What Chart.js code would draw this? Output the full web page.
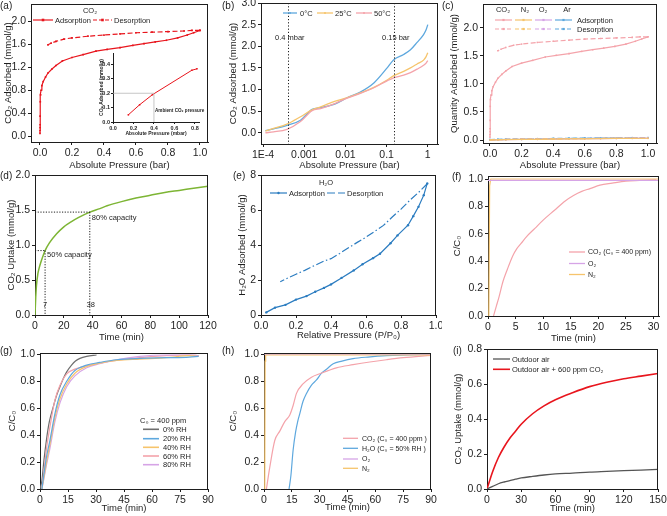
<!DOCTYPE html>
<html><head><meta charset="utf-8">
<script src="https://cdn.jsdelivr.net/npm/chart.js@4.4.0/dist/chart.umd.min.js"></script>
<style>
html,body{margin:0;padding:0;background:#fff;}
body{width:667px;height:516px;overflow:hidden;position:relative;}
canvas{position:absolute;}
</style></head><body>
<script>
// ================= DATA =================
// (a) CO2 isotherm (bar, mmol/g)
const aAdsP = [0.0002,0.0004,0.0006,0.0008,0.001,0.002,0.004,0.007,0.012,0.02,0.035,0.05,0.075,0.1,0.14,0.2,0.27,0.35,0.42,0.5,0.58,0.65,0.72,0.79,0.86,0.92,0.96,1.0];
const aAdsQ = [0.05,0.1,0.15,0.2,0.35,0.6,0.72,0.8,0.88,0.95,1.03,1.1,1.17,1.23,1.31,1.37,1.42,1.48,1.51,1.54,1.58,1.61,1.64,1.67,1.71,1.76,1.8,1.84];
const aDesP = [1.0,0.95,0.9,0.8,0.7,0.6,0.5,0.4,0.3,0.2,0.15,0.1,0.07,0.05];
const aDesQ = [1.84,1.84,1.83,1.82,1.81,1.8,1.78,1.76,1.74,1.71,1.69,1.65,1.62,1.59];
// (a) inset, low pressure (mbar, mmol/g)
const insP = [0.15,0.26,0.385,0.77,0.82];
const insQ = [0.05,0.12,0.19,0.36,0.37];
// (b) CO2 isotherms at three temperatures (bar, mmol/g)
const bP = [1.14e-4,1.8e-4,3.8e-4,8.1e-4,1.55e-3,2.5e-3,5.7e-3,1.1e-2,2.3e-2,4.9e-2,1.03e-1,1.49e-1,2.6e-1,3.8e-1,5.5e-1,7.9e-1,9.1e-1,1.0];
const b0C  = [0.05,0.09,0.17,0.29,0.54,0.58,0.67,0.81,0.94,1.15,1.5,1.69,1.81,1.92,2.09,2.27,2.38,2.5];
const b25C = [0.04,0.1,0.2,0.37,0.53,0.6,0.73,0.81,0.92,1.05,1.22,1.32,1.42,1.5,1.59,1.68,1.76,1.85];
const b50C = [0.0,0.02,0.08,0.26,0.51,0.56,0.68,0.8,0.91,1.04,1.2,1.27,1.33,1.39,1.47,1.56,1.61,1.67];
// (c) other gases (bar, mmol/g)
const cGasP = [0,0.05,0.1,0.2,0.3,0.4,0.5,0.6,0.7,0.8,0.9,1.0];
const cN2Ads = [0,0.003,0.006,0.01,0.013,0.016,0.019,0.022,0.025,0.028,0.03,0.032];
const cN2Des = [0.004,0.007,0.01,0.014,0.017,0.02,0.023,0.026,0.028,0.03,0.031,0.032];
const cO2Ads = [0,0.004,0.007,0.011,0.014,0.017,0.02,0.023,0.026,0.029,0.031,0.034];
const cO2Des = [0.005,0.008,0.011,0.015,0.018,0.021,0.024,0.027,0.029,0.031,0.033,0.034];
const cArAds = [0,0.006,0.01,0.015,0.02,0.024,0.028,0.031,0.034,0.036,0.038,0.04];
const cArDes = [0.008,0.012,0.016,0.02,0.024,0.028,0.031,0.034,0.036,0.038,0.04,0.04];
// (d) CO2 uptake kinetics (min, mmol/g)
const dT = [0,0.5,1,2,3,4,5,7,10,15,20,25,30,38,45,50,60,70,80,90,100,110,120];
const dQ = [0,0.25,0.42,0.59,0.68,0.75,0.81,0.92,1.03,1.16,1.26,1.33,1.39,1.47,1.52,1.56,1.62,1.67,1.71,1.75,1.78,1.81,1.84];
const dMarkT = [7,38];
const dMarkQ = [0.92,1.47];
// (e) H2O isotherm (P/P0, mmol/g)
const eAdsP = [0.03,0.08,0.14,0.2,0.26,0.31,0.36,0.4,0.46,0.53,0.58,0.64,0.68,0.74,0.78,0.84,0.87,0.9,0.93,0.95];
const eAdsQ = [0.15,0.42,0.58,0.88,1.08,1.33,1.55,1.75,2.12,2.55,2.9,3.25,3.5,4.1,4.55,5.13,5.65,6.18,6.85,7.52];
const eDesP = [0.95,0.9,0.85,0.8,0.75,0.7,0.65,0.6,0.55,0.5,0.45,0.4,0.36,0.3,0.25,0.2,0.15,0.11];
const eDesQ = [7.5,7.0,6.55,6.05,5.6,5.12,4.78,4.45,4.15,3.84,3.52,3.22,3.08,2.8,2.55,2.33,2.1,1.9];
// (f) breakthrough (min, C/C0)
const fCO2T = [1,1.5,2,2.7,3.5,4.5,5.2,6,7,8.5,10,12,14,15.5,17,18.5,20.3,22.5,25,27.5,30.5];
const fCO2  = [0,0.07,0.14,0.25,0.34,0.44,0.49,0.53,0.58,0.64,0.7,0.77,0.84,0.88,0.91,0.93,0.955,0.97,0.985,0.99,0.995];
const fO2T = [0,31];
const fO2  = [0.99,0.99];
const fN2T = [0.15,0.3,0.5,31];
const fN2  = [0,0.95,1.0,1.0];
// (g) breakthrough vs humidity (min, C/C0)
const gT0 = [0,1,2,3.6,5,7.1,9,10.7,12.5,14.3,16.9,19,21.4,25,30.3];
const gRH0 = [0,0.06,0.2,0.38,0.5,0.61,0.7,0.76,0.82,0.87,0.92,0.95,0.97,0.985,0.995];
const gT = [1,2,3.5,5.3,8,10.7,14.3,18.7,25,32,41,53.5,67.7,80,85];
const gRH20 = [0,0.1,0.24,0.36,0.56,0.7,0.8,0.88,0.92,0.94,0.96,0.97,0.975,0.98,0.985];
const gRH40 = [0,0.08,0.2,0.33,0.53,0.67,0.78,0.86,0.91,0.935,0.955,0.965,0.975,0.99,0.985];
const gRH60 = [0,0.12,0.3,0.46,0.66,0.77,0.855,0.89,0.915,0.935,0.955,0.975,0.99,0.995,0.99];
const gRH80 = [0,0.07,0.18,0.3,0.5,0.64,0.76,0.84,0.9,0.93,0.96,0.985,0.995,0.995,0.99];
// (h) breakthrough with humid air (min, C/C0)
const hCO2T = [1.3,3.1,5.8,8.5,11.2,13.9,15.7,17.5,21,25.6,30.1,39,48,57,66,75,90];
const hCO2  = [0,0.16,0.36,0.43,0.5,0.55,0.62,0.71,0.78,0.83,0.856,0.9,0.923,0.943,0.96,0.975,0.993];
const hH2OT = [13.5,14.5,15.7,17,18.3,19.3,21,22.9,25.5,28.3,31,33.7,37.3,42,48,56,66,78,90];
const hH2O  = [0,0.1,0.29,0.42,0.51,0.56,0.65,0.71,0.77,0.81,0.86,0.89,0.93,0.95,0.968,0.98,0.99,0.995,1.0];
const hO2T = [0,90];
const hO2  = [1.004,1.004];
const hN2T = [0.4,0.6,0.9,90];
const hN2  = [0,0.95,0.996,0.996];
// (i) outdoor air uptake (min, mmol/g)
const iT = [0,5,10,15,20,25,30,40,50,60,75,90,105,120,135,150];
const iOutdoor = [0,0.015,0.03,0.04,0.048,0.056,0.063,0.072,0.08,0.086,0.091,0.097,0.101,0.105,0.108,0.112];
const iEnriched = [0,0.1,0.18,0.24,0.29,0.33,0.37,0.43,0.475,0.51,0.55,0.585,0.61,0.63,0.645,0.66];
// tick values
const aXTicks = [0,0.2,0.4,0.6,0.8,1.0], aYTicks = [0,0.4,0.8,1.2,1.6,2.0];
const insXTicks = [0,0.2,0.4,0.6,0.8], insYTicks = [0,0.1,0.2,0.3,0.4];
const bXTicks = [1e-4,1e-3,1e-2,1e-1,1], bXLabels = ['1E-4','0.001','0.01','0.1','1'];
const bYTicks = [0,0.5,1.0,1.5,2.0,2.5,3.0];
const cXTicks = [0,0.2,0.4,0.6,0.8,1.0], cYTicks = [0,0.5,1.0,1.5,2.0];
const dXTicks = [0,20,40,60,80,100,120], dYTicks = [0,0.5,1.0,1.5,2.0];
const eXTicks = [0,0.2,0.4,0.6,0.8,1.0], eYTicks = [0,2,4,6,8];
const fXTicks = [0,5,10,15,20,25,30], fYTicks = [0,0.2,0.4,0.6,0.8,1.0];
const ghXTicks = [0,15,30,45,60,75,90], ghYTicks = [0,0.2,0.4,0.6,0.8,1.0];
const iXTicks = [0,30,60,90,120,150], iYTicks = [0,0.2,0.4,0.6,0.8];

// ================= STYLE / HELPERS =================
const FONT = "'Liberation Sans', Arial, Helvetica, sans-serif";
const INK = '#1e1e1e';
const RED = '#e8151d', PINK = '#f4a3aa', ORANGE = '#f6c46c', VIOLET = '#d6a4e6', BLUE = '#5ea8de';
const GRAY = '#6e6e6e', GREEN = '#7db534', EBLUE = '#2b7cc0', IGRAY = '#555555';
const pts = (xs, ys) => xs.map((x, i) => ({x, y: ys[i]}));

function txt(ctx, s, x, y, size, align, weight, color) {
  ctx.save();
  ctx.font = (weight || 'normal') + ' ' + size + 'px ' + FONT;
  ctx.fillStyle = color || INK; ctx.textAlign = align || 'left'; ctx.textBaseline = 'middle';
  ctx.fillText(s, x, y); ctx.restore();
}
function seg(ctx, x1, y1, x2, y2, color, lw, dash) {
  ctx.save(); ctx.strokeStyle = color; ctx.lineWidth = lw || 1; ctx.setLineDash(dash || []);
  ctx.beginPath(); ctx.moveTo(x1, y1); ctx.lineTo(x2, y2); ctx.stroke(); ctx.restore();
}
function mark(ctx, x, y, color, r, round) {
  ctx.save(); ctx.fillStyle = color; ctx.beginPath();
  if (round) ctx.arc(x, y, r, 0, Math.PI * 2); else ctx.rect(x - r, y - r, 2 * r, 2 * r);
  ctx.fill(); ctx.restore();
}

function panel(cfg) {
  const [cx, cy, cw, ch] = cfg.canvas;
  const [pl, pt, pr, pb] = cfg.plot;
  const cv = document.createElement('canvas');
  cv.width = cw; cv.height = ch;
  cv.style.left = cx + 'px'; cv.style.top = cy + 'px'; cv.style.width = cw + 'px'; cv.style.height = ch + 'px';
  document.body.appendChild(cv);
  const ts = cfg.tickSize || 10.5, tt = cfg.titleSize || 9.5, wt = cfg.bold ? 'bold' : 'normal';
  const lh = tt * 1.2;
  function sc(a, isX) {
    return {
      type: a.type || 'linear', position: isX ? 'bottom' : 'left', min: a.min, max: a.max,
      afterBuildTicks: s => { s.ticks = a.ticks.map(v => ({value: v})); },
      afterFit: s => {
        if (isX) s.height = cy + ch - pb; else s.width = pl - cx;
        s.paddingLeft = 0; s.paddingRight = 0; s.paddingTop = 0; s.paddingBottom = 0;
      },
      ticks: {
        autoSkip: false, maxRotation: 0, minRotation: 0, padding: cfg.tickPad != null ? cfg.tickPad : 2, color: INK,
        font: {family: FONT, size: ts, weight: wt},
        callback: (v, i) => a.labels ? a.labels[i] : Number(v).toFixed(a.dec)
      },
      grid: {drawOnChartArea: false, drawTicks: true, tickLength: cfg.tickLen || 3, color: INK, lineWidth: 1},
      border: {display: true, color: INK, width: 1},
      title: {
        display: true, text: a.title, color: INK, font: {family: FONT, size: tt, weight: wt},
        padding: isX ? {top: 0, bottom: Math.max(0, cy + ch - cfg.xTitleY - lh / 2)}
                     : {top: Math.max(0, cfg.yTitleX - cx - lh / 2), bottom: 0}
      }
    };
  }
  return new Chart(cv, {
    type: 'line',
    data: {datasets: cfg.datasets},
    options: {
      responsive: false, animation: false, devicePixelRatio: 1,
      layout: {padding: {left: 0, top: pt - cy, right: cx + cw - pr, bottom: 0}},
      scales: {x: sc(cfg.x, true), y: sc(cfg.y, false)},
      plugins: {legend: {display: false}, tooltip: {enabled: false}},
      elements: {line: {borderWidth: 1.2, fill: false}, point: {radius: 0}}
    },
    plugins: [{
      id: 'deco',
      afterDraw(chart) {
        const ctx = chart.ctx, a = chart.chartArea;
        ctx.save(); ctx.translate(-cx, -cy);
        const px = v => chart.scales.x.getPixelForValue(v) + cx;
        const py = v => chart.scales.y.getPixelForValue(v) + cy;
        if (!cfg.noBox) {
          ctx.strokeStyle = INK; ctx.lineWidth = 1; ctx.beginPath();
          ctx.moveTo(a.left + cx, a.top + cy + 0.5); ctx.lineTo(a.right + cx, a.top + cy + 0.5);
          ctx.moveTo(a.right + cx - 0.5, a.top + cy); ctx.lineTo(a.right + cx - 0.5, a.bottom + cy + 1);
          ctx.stroke();
        }
        if (cfg.letter) txt(ctx, cfg.letter[0], cfg.letter[1], cfg.letter[2], 10);
        if (cfg.deco) cfg.deco(ctx, px, py);
        ctx.restore();
      }
    }]
  });
}

const line = (xs, ys, color, extra) => Object.assign({data: pts(xs, ys), borderColor: color, backgroundColor: color, borderWidth: 1.2, pointRadius: 0, tension: 0}, extra || {});
const mono = {cubicInterpolationMode: 'monotone'};

// ================= (a) =================
panel({
  canvas: [0, 0, 222, 172], plot: [31, 3, 208, 142], xTitleY: 165, yTitleX: 8, letter: ['(a)', 0, 6],
  x: {min: -0.056, max: 1.05, ticks: aXTicks, dec: 1, title: 'Absolute Pressure (bar)'},
  y: {min: -0.1, max: 2.3, ticks: aYTicks, dec: 1, title: 'CO\u2082 Adsorbed (mmol/g)'},
  datasets: [
    line(aDesP, aDesQ, RED, {borderDash: [5, 2.5], pointRadius: 1.2, pointStyle: 'rect', pointBorderWidth: 0}),
    line(aAdsP, aAdsQ, RED, {pointRadius: 1.2, pointStyle: 'rect', pointBorderWidth: 0})
  ],
  deco(ctx) {
    txt(ctx, 'CO\u2082', 90, 11, 7.5, 'center');
    seg(ctx, 33, 20, 53, 20, RED, 1.2); mark(ctx, 43, 20, RED, 1.3);
    txt(ctx, 'Adsorption', 55, 20.5, 7.5);
    seg(ctx, 93, 20, 112, 20, RED, 1.2, [4, 2]); mark(ctx, 102.5, 20, RED, 1.3);
    txt(ctx, 'Desorption', 114, 20.5, 7.5);
  }
});
// inset
panel({
  canvas: [98, 48, 110, 92], plot: [113, 53, 199, 122], xTitleY: 134, yTitleX: 102, noBox: true,
  tickSize: 5.5, titleSize: 5, bold: true, tickLen: 2, tickPad: 1,
  x: {min: 0, max: 0.84, ticks: insXTicks, dec: 1, title: 'Absolute Pressure (mbar)'},
  y: {min: 0, max: 0.48, ticks: insYTicks, dec: 1, title: 'CO\u2082 Adsorbed (mmol/g)'},
  datasets: [line(insP, insQ, RED, {borderWidth: 1, pointRadius: 1.1, pointStyle: 'rect', pointBorderWidth: 0})],
  deco(ctx, px, py) {
    seg(ctx, px(0), py(0.2), px(0.4), py(0.2), '#b8b8b8', 0.8);
    seg(ctx, px(0.4), py(0), px(0.4), py(0.2), '#b8b8b8', 0.8);
    txt(ctx, 'Ambient CO\u2082 pressure', px(0.41), py(0.078), 4.6, 'left', 'bold');
  }
});

// ================= (b) =================
panel({
  canvas: [218, 0, 224, 172], plot: [261, 3, 438, 144], xTitleY: 165, yTitleX: 233, letter: ['(b)', 222, 6],
  x: {type: 'logarithmic', min: 8.9e-5, max: 1.77, ticks: bXTicks, labels: bXLabels, title: 'Absolute Pressure (bar)'},
  y: {min: -0.26, max: 3.0, ticks: bYTicks, dec: 1, title: 'CO\u2082 Adsorbed (mmol/g)'},
  datasets: [
    line(bP, b50C, PINK, Object.assign({borderWidth: 1.3}, mono)),
    line(bP, b25C, ORANGE, Object.assign({borderWidth: 1.3}, mono)),
    line(bP, b0C, BLUE, Object.assign({borderWidth: 1.3}, mono))
  ],
  deco(ctx, px, py) {
    const top = py(3.0), bot = py(-0.26);
    seg(ctx, Math.round(px(4e-4)) + 0.5, top, Math.round(px(4e-4)) + 0.5, bot, INK, 1, [1.2, 2]);
    seg(ctx, Math.round(px(0.15)) + 0.5, top, Math.round(px(0.15)) + 0.5, bot, INK, 1, [1.2, 2]);
    txt(ctx, '0.4 mbar', 275, 38, 7.5);
    txt(ctx, '0.15 bar', 382, 38, 7.5);
    seg(ctx, 283, 13, 297, 13, BLUE, 1.3); mark(ctx, 290, 13, BLUE, 1, true);
    txt(ctx, '0\u00B0C', 300, 13.5, 7.5);
    seg(ctx, 317, 13, 333, 13, ORANGE, 1.3); mark(ctx, 325, 13, ORANGE, 1, true);
    txt(ctx, '25\u00B0C', 335, 13.5, 7.5);
    seg(ctx, 356, 13, 372, 13, PINK, 1.3); mark(ctx, 364, 13, PINK, 1, true);
    txt(ctx, '50\u00B0C', 374, 13.5, 7.5);
  }
});

// ================= (c) =================
panel({
  canvas: [440, 0, 227, 172], plot: [483, 3, 657, 143], xTitleY: 165, yTitleX: 454, letter: ['(c)', 442, 6],
  x: {min: -0.044, max: 1.057, ticks: cXTicks, dec: 1, title: 'Absolute Pressure (bar)'},
  y: {min: -0.053, max: 2.425, ticks: cYTicks, dec: 1, title: 'Quantity Adsorbed (mmol/g)'},
  datasets: [
    line(aDesP, aDesQ, PINK, {borderDash: [5, 2.5], pointRadius: 1.1, pointStyle: 'rect', pointBorderWidth: 0}),
    line(aAdsP, aAdsQ, PINK, {pointRadius: 1.1, pointStyle: 'rect', pointBorderWidth: 0}),
    line(cGasP, cN2Ads, ORANGE, {pointRadius: 0.9, pointBorderWidth: 0}),
    line(cGasP, cN2Des, ORANGE, {borderDash: [5, 2.5]}),
    line(cGasP, cO2Ads, VIOLET, {pointRadius: 0.9, pointBorderWidth: 0}),
    line(cGasP, cO2Des, VIOLET, {borderDash: [5, 2.5]}),
    line(cGasP, cArAds, BLUE, {borderDash: [6, 2, 1.5, 2], pointRadius: 1, pointBorderWidth: 0}),
    line(cGasP, cArDes, BLUE, {borderDash: [5, 2.5], pointRadius: 1, pointBorderWidth: 0})
  ],
  deco(ctx) {
    txt(ctx, 'CO\u2082', 503, 9.5, 7.5, 'center');
    txt(ctx, 'N\u2082', 525, 9.5, 7.5, 'center');
    txt(ctx, 'O\u2082', 543, 9.5, 7.5, 'center');
    txt(ctx, 'Ar', 567, 9.5, 7.5, 'center');
    const cols = [[495, PINK], [515, ORANGE], [535, VIOLET], [555, BLUE]];
    cols.forEach(([x, c]) => {
      seg(ctx, x, 20, x + 17, 20, c, 1.2); mark(ctx, x + 8.5, 20, c, 1.1);
      seg(ctx, x, 29, x + 17, 29, c, 1.2, [4, 2]); mark(ctx, x + 8.5, 29, c, 1.1);
    });
    txt(ctx, 'Adsorption', 577, 20.5, 7.5);
    txt(ctx, 'Desorption', 577, 29.5, 7.5);
  }
});

// ================= (d) =================
panel({
  canvas: [0, 167, 222, 177], plot: [35, 175, 208, 315], xTitleY: 337, yTitleX: 11, letter: ['(d)', 0, 176],
  x: {min: 0, max: 120, ticks: dXTicks, dec: 0, title: 'Time (min)'},
  y: {min: 0, max: 2.0, ticks: dYTicks, dec: 1, title: 'CO\u2082 Uptake (mmol/g)'},
  datasets: [line(dT, dQ, GREEN, Object.assign({borderWidth: 1.5}, mono))],
  deco(ctx, px, py) {
    const lab = ['50% capacity', '80% capacity'];
    dMarkT.forEach((t, i) => {
      const x = px(t), y = py(dMarkQ[i]);
      seg(ctx, px(0), y, x, y, INK, 1, [1.2, 1.5]);
      seg(ctx, x, y, x, py(0), INK, 1, [1.2, 1.5]);
      txt(ctx, String(t), x + (i === 0 ? 0 : 1), py(0) - 10, 7.5, 'center');
      txt(ctx, lab[i], x + 2, y + (i === 0 ? 4.5 : 6), 7.5);
    });
  }
});

// ================= (e) =================
panel({
  canvas: [218, 167, 224, 177], plot: [261, 175, 436, 315], xTitleY: 335, yTitleX: 242, letter: ['(e)', 233, 176],
  x: {min: 0, max: 1.0, ticks: eXTicks, dec: 1, title: 'Relative Pressure (P/P\u2080)'},
  y: {min: 0, max: 8, ticks: eYTicks, dec: 0, title: 'H\u2082O Adsorbed (mmol/g)'},
  datasets: [
    line(eDesP, eDesQ, EBLUE, {borderDash: [8, 2.5, 1.5, 2.5]}),
    line(eAdsP, eAdsQ, EBLUE, {pointRadius: 1.2, pointBorderWidth: 0})
  ],
  deco(ctx) {
    txt(ctx, 'H\u2082O', 326, 183, 7.5, 'center');
    seg(ctx, 270, 193, 287, 193, EBLUE, 1.2); mark(ctx, 278.5, 193, EBLUE, 1.2, true);
    txt(ctx, 'Adsorption', 289, 193.5, 7.5);
    seg(ctx, 327, 193, 345, 193, EBLUE, 1.2, [8, 3]);
    txt(ctx, 'Desorption', 347, 193.5, 7.5);
  }
});

// ================= (f) =================
panel({
  canvas: [440, 167, 227, 177], plot: [488, 176, 659, 316], xTitleY: 338, yTitleX: 457, letter: ['(f)', 452, 177],
  x: {min: 0, max: 31, ticks: fXTicks, dec: 0, title: 'Time (min)'},
  y: {min: 0, max: 1.022, ticks: fYTicks, dec: 1, title: 'C/C\u2080'},
  datasets: [
    line(fO2T, fO2, VIOLET),
    line(fN2T, fN2, ORANGE),
    line(fCO2T, fCO2, PINK, mono)
  ],
  deco(ctx) {
    seg(ctx, 569, 252, 585, 252, PINK, 1.3); txt(ctx, 'CO\u2082 (C\u2080 = 400 ppm)', 588, 252.5, 7);
    seg(ctx, 569, 263.5, 585, 263.5, VIOLET, 1.3); txt(ctx, 'O\u2082', 588, 264, 7);
    seg(ctx, 569, 274.5, 585, 274.5, ORANGE, 1.3); txt(ctx, 'N\u2082', 588, 275, 7);
  }
});

// ================= (g) =================
panel({
  canvas: [0, 339, 222, 177], plot: [40, 353, 208, 489], xTitleY: 508, yTitleX: 12, letter: ['(g)', 0, 351],
  x: {min: 0, max: 90, ticks: ghXTicks, dec: 0, title: 'Time (min)'},
  y: {min: 0, max: 1.01, ticks: ghYTicks, dec: 1, title: 'C/C\u2080'},
  datasets: [
    line(gT, gRH20, BLUE, mono),
    line(gT, gRH40, ORANGE, mono),
    line(gT, gRH80, VIOLET, mono),
    line(gT, gRH60, PINK, mono),
    line(gT0, gRH0, GRAY, mono)
  ],
  deco(ctx) {
    txt(ctx, 'C\u2080 = 400 ppm', 140, 420.5, 7.5);
    const rows = [['0% RH', GRAY, 429.3], ['20% RH', BLUE, 438.7], ['40% RH', ORANGE, 447.3], ['60% RH', PINK, 456], ['80% RH', VIOLET, 464.7]];
    rows.forEach(([s, c, y]) => { seg(ctx, 143, y, 159, y, c, 1.6); txt(ctx, s, 163, y + 0.5, 7.5); });
  }
});

// ================= (h) =================
panel({
  canvas: [218, 339, 224, 177], plot: [264, 353, 431, 489], xTitleY: 507, yTitleX: 233, letter: ['(h)', 222, 351],
  x: {min: 0, max: 90, ticks: ghXTicks, dec: 0, title: 'Time (min)'},
  y: {min: 0, max: 1.01, ticks: ghYTicks, dec: 1, title: 'C/C\u2080'},
  datasets: [
    line(hO2T, hO2, VIOLET),
    line(hN2T, hN2, ORANGE),
    line(hCO2T, hCO2, PINK, mono),
    line(hH2OT, hH2O, BLUE, mono)
  ],
  deco(ctx) {
    const rows = [['CO\u2082 (C\u2080 = 400 ppm )', PINK, 438.3], ['H\u2082O (C\u2080 = 50% RH )', BLUE, 448.3], ['O\u2082', VIOLET, 459], ['N\u2082', ORANGE, 468.3]];
    rows.forEach(([s, c, y]) => { seg(ctx, 343, y, 358, y, c, 1.3); txt(ctx, s, 362, y + 0.5, 7); });
  }
});

// ================= (i) =================
panel({
  canvas: [440, 339, 227, 177], plot: [487, 349, 658, 489], xTitleY: 508, yTitleX: 458, letter: ['(i)', 453, 351],
  x: {min: 0, max: 150, ticks: iXTicks, dec: 0, title: 'Time (min)'},
  y: {min: 0, max: 0.8, ticks: iYTicks, dec: 1, title: 'CO\u2082 Uptake (mmol/g)'},
  datasets: [
    line(iT, iOutdoor, IGRAY, Object.assign({borderWidth: 1.3}, mono)),
    line(iT, iEnriched, RED, Object.assign({borderWidth: 1.6}, mono))
  ],
  deco(ctx) {
    seg(ctx, 493, 359, 510, 359, IGRAY, 1.3); txt(ctx, 'Outdoor air', 512, 359.5, 7.5);
    seg(ctx, 493, 369.3, 510, 369.3, RED, 1.6); txt(ctx, 'Outdoor air + 600 ppm CO\u2082', 512, 369.8, 7.5);
  }
});
</script>
</body></html>
